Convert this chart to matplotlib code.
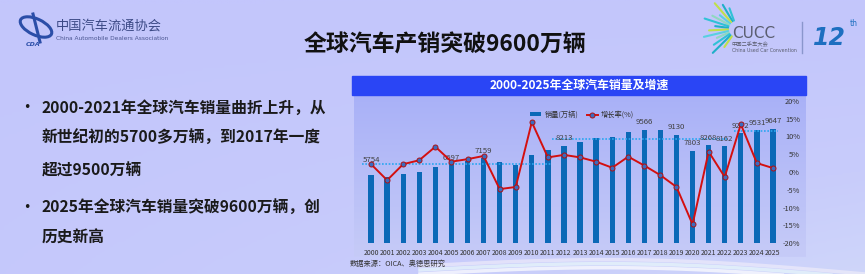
import numpy as np
import matplotlib.pyplot as plt
from matplotlib.patches import Rectangle, Ellipse
from matplotlib.colors import LinearSegmentedColormap

plt.rcParams['font.family'] = ['Noto Sans CJK SC', 'DejaVu Sans']

# 数据
years = [str(y) for y in range(2000, 2026)]
sales = [5754, 5610, 5790, 5960, 6410, 6697, 6910, 7159, 6800, 6570,
         7470, 7820, 8213, 8550, 8830, 8970, 9400, 9566, 9520, 9130,
         7803, 8268, 8162, 9272, 9531, 9647]
growth = [2.2, -2.3, 2.2, 3.3, 7.1, 2.9, 3.6, 4.5, -4.8, -4.2,
          14.0, 4.1, 4.8, 4.1, 2.9, 1.2, 4.3, 1.8, -0.9, -4.2,
          -14.7, 5.7, -1.4, 13.4, 2.5, 1.1]
label_years = ['2000', '2005', '2007', '2012', '2017', '2019', '2020',
               '2021', '2022', '2023', '2024', '2025']
ref_levels = [6670, 8740, 9440]
ref_spans = [(-0.56, 11.25), (11.25, 22.2), (22.6, 25.3)]

bullets = [
    ["2000-2021年全球汽车销量曲折上升，从", "新世纪初的5700多万辆，到2017年一度", "超过9500万辆"],
    ["2025年全球汽车销量突破9600万辆，创", "历史新高"],
]

W, H = 865, 274
fig = plt.figure(figsize=(W / 100, H / 100), dpi=100)

# 背景层（像素坐标）
bg = fig.add_axes([0, 0, 1, 1], zorder=-2)
bg.set_xlim(0, W)
bg.set_ylim(H, 0)
bg.axis('off')

slide_cmap = LinearSegmentedColormap.from_list('slide', ['#c3c6fc', '#c8ccfb', '#d3dcf9'])
gx, gy = np.meshgrid(np.linspace(0, 1, 200), np.linspace(0, 1, 100))
bg.imshow(0.6 * gy * gx + 0.2 * gy, cmap=slide_cmap, vmin=0, vmax=1,
          extent=[0, W, H, 0], aspect='auto', zorder=0)

# 右下角装饰曲线
t = np.linspace(0, 1, 100)
for k, (c, a) in enumerate([('#ffffff', 0.7), ('#e6f4fb', 0.8), ('#f4f0fa', 0.6)]):
    xs = 420 + 445 * t
    ys = 274 - 10 * np.sin(np.pi * t) - 4 * k + 8 * t
    bg.plot(xs, ys, color=c, lw=2.5, alpha=a, zorder=1)

# 图表面板
panel_cmap = LinearSegmentedColormap.from_list('panel', ['#a9b1f7', '#c6cbf8'])
bg.imshow(np.linspace(0, 1, 100).reshape(-1, 1), cmap=panel_cmap,
          extent=[354, 806, 257, 95], aspect='auto', zorder=2)
bg.add_patch(Rectangle((352, 75.7), 454, 19.5, color='#2a45f5', zorder=3))
bg.text(579, 85.5, '2000-2025年全球汽车销量及增速', color='white', fontsize=8.6,
        fontweight='bold', ha='center', va='center', zorder=4)

# 大标题
bg.text(445, 45, '全球汽车产销突破9600万辆', fontsize=16.5, fontweight='heavy',
        ha='center', va='center', color='#111111', zorder=4)

# 左侧要点
line_y = [[108, 138, 171], [208, 238]]
for block, ys in zip(bullets, line_y):
    bg.text(27, ys[0], '•', fontsize=9, ha='center', va='center',
            color='#1a1a1a', family=['DejaVu Sans'])
    for txt, y in zip(block, ys):
        bg.text(42, y, txt, fontsize=11.3, fontweight='bold', ha='left',
                va='center', color='#1a1a1a')

# 数据来源
bg.text(350, 264, '数据来源：OICA、奥德思研究', fontsize=5.2, ha='left',
        va='center', color='#333333')

# 左上角协会标志
bg.add_patch(Ellipse((36, 27), 34, 16, angle=25, fill=False, lw=2.2,
                     ec='#2b4ea8', zorder=4))
bg.plot([33, 40], [14, 42], color='#2b4ea8', lw=2.2, zorder=4)
bg.text(33, 44, 'CDA', fontsize=4.5, fontweight='bold', style='italic',
        color='#2b4ea8', ha='center', va='center', family=['DejaVu Sans'])
bg.text(56, 26, '中国汽车流通协会', fontsize=9.5, color='#3c4a86',
        ha='left', va='center')
bg.text(56, 39, 'China Automobile Dealers Association', fontsize=4.2,
        color='#4a5590', ha='left', va='center', family=['DejaVu Sans'])

# 右上角大会标志
ray_colors = ['#2fc2d6', '#1fb0c8', '#bfe04a', '#58d0e0', '#8fd8c0']
angles = np.linspace(110, 235, 13)
for i, ang in enumerate(angles):
    r = np.deg2rad(ang)
    r0, r1 = 9, 22 + (i % 3) * 6
    bg.plot([737 + r0 * np.cos(r), 737 + r1 * np.cos(r)],
            [29 - r0 * np.sin(r), 29 - r1 * np.sin(r)],
            color=ray_colors[i % len(ray_colors)], lw=1.5, zorder=4,
            solid_capstyle='round')
bg.text(732, 33, 'CUCC', fontsize=11, color='#5b5e70', ha='left',
        va='center', family=['DejaVu Sans'])
bg.text(732, 45, '中国二手车大会', fontsize=3.8, color='#5b5e70',
        ha='left', va='center')
bg.text(732, 51, 'China Used Car Convention', fontsize=3.4, color='#5b5e70',
        ha='left', va='center', family=['DejaVu Sans'])
bg.plot([802, 802], [22, 53], color='#8a96cc', lw=1, zorder=4)
bg.text(813, 38, '12', fontsize=17, fontweight='bold', style='italic',
        color='#1d6fc0', ha='left', va='center', family=['DejaVu Sans'])
bg.text(850, 24, 'th', fontsize=5.5, color='#1d6fc0', ha='left',
        va='center', family=['DejaVu Sans'])

# 图表
x = np.arange(len(years))
ax = fig.add_axes([361.4 / W, 30.7 / H, 421.2 / W, 142.6 / H])
ax.patch.set_alpha(0)
bars = ax.bar(x, sales, width=0.33, color='#0b69b7', zorder=3, label='销量(万辆)')
ax.set_ylim(0, 12000)
ax.set_xlim(-0.6, 25.6)
ax.set_yticks([])
ax.set_xticks(x)
ax.set_xticklabels(years, fontsize=5.0, color='#333333')
ax.tick_params(axis='x', length=0, pad=4)
for s in ax.spines.values():
    s.set_visible(False)

for lvl, (x0, x1) in zip(ref_levels, ref_spans):
    ax.hlines(lvl, x0, x1, colors='#2aa6f0', linestyles=(0, (1, 1)), lw=1.2, zorder=4)

label_offsets = {'2000': 10.5, '2005': 4.0}
for yr in label_years:
    i = years.index(yr)
    ax.annotate(str(sales[i]), (x[i], sales[i]), xytext=(0, label_offsets.get(yr, 5.4)),
                textcoords='offset points', ha='center', va='center',
                fontsize=5.6, color='#404040', zorder=6)

ax2 = ax.twinx()
ax2.patch.set_alpha(0)
line, = ax2.plot(x, growth, color='#d40f0f', lw=1.4, marker='o', markersize=3.6,
                 markerfacecolor='#3a6cc0', markeredgecolor='#b01010',
                 markeredgewidth=0.7, zorder=5, label='增长率(%)')
ax2.set_ylim(-20, 20)
ax2.set_yticks(np.arange(-20, 21, 5))
ax2.set_yticklabels([f'{v}%' for v in range(-20, 21, 5)], fontsize=5.3, color='#333333')
ax2.tick_params(axis='y', length=0, pad=12.5)
for lab in ax2.get_yticklabels():
    lab.set_horizontalalignment('right')
for s in ax2.spines.values():
    s.set_visible(False)

ax2.legend([bars, line], ['销量(万辆)', '增长率(%)'], loc='center', ncol=2,
           bbox_to_anchor=(582 / W, 1 - 115 / H), bbox_transform=fig.transFigure,
           frameon=False, fontsize=5.2, handlelength=1.6, handleheight=0.5,
           columnspacing=1.2, handletextpad=0.4, labelcolor='#333333')

fig.savefig('out.png', dpi=100)
